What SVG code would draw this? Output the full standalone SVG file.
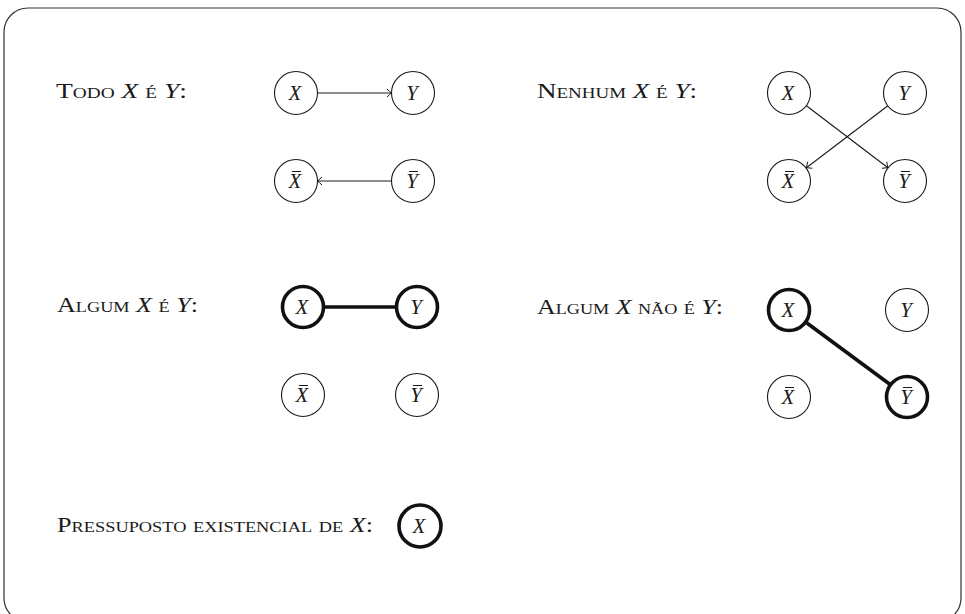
<svg xmlns="http://www.w3.org/2000/svg" width="965" height="614" viewBox="0 0 965 614">
<style>
  .lbl { font-family: 'Liberation Serif', 'Times New Roman', serif; font-size: 20px; font-variant: small-caps; fill: #1a1a1a; }
  .m { font-style: italic; font-variant: normal; }
  .nt { font-family: 'Liberation Serif', 'Times New Roman', serif; font-size: 21px; font-style: italic; fill: #1a1a1a; text-anchor: middle; }
  .thin { fill: #fff; stroke: #1a1a1a; stroke-width: 1.1; }
  .thick { fill: #fff; stroke: #111; stroke-width: 3.6; }
  .edge { stroke: #1a1a1a; stroke-width: 1.1; fill: none; }
  .bold { stroke: #111; stroke-width: 3.6; fill: none; }
  .bar { stroke: #1a1a1a; stroke-width: 1; }
</style>
<defs>
  <marker id="arr" viewBox="-6 -5 7 10" markerWidth="7" markerHeight="10" refX="0" refY="0" orient="auto" markerUnits="userSpaceOnUse">
    <path d="M -4.5 -4 Q -1.5 -1 0 0 Q -1.5 1 -4.5 4" fill="none" stroke="#1a1a1a" stroke-width="1"/>
  </marker>
</defs>
<rect x="4" y="8" width="957" height="614" rx="24" ry="24" fill="#fff" stroke="#333" stroke-width="1.2"/>

<g id="labels">
  <text class="lbl" x="56" y="98" textLength="131" lengthAdjust="spacingAndGlyphs">Todo <tspan class="m">X</tspan> é <tspan class="m">Y</tspan>:</text>
  <text class="lbl" x="537" y="98" textLength="160" lengthAdjust="spacingAndGlyphs">Nenhum <tspan class="m">X</tspan> é <tspan class="m">Y</tspan>:</text>
  <text class="lbl" x="57" y="312" textLength="141" lengthAdjust="spacingAndGlyphs">Algum <tspan class="m">X</tspan> é <tspan class="m">Y</tspan>:</text>
  <text class="lbl" x="537" y="314" textLength="186" lengthAdjust="spacingAndGlyphs">Algum <tspan class="m">X</tspan> não é <tspan class="m">Y</tspan>:</text>
  <text class="lbl" x="57" y="532" textLength="316" lengthAdjust="spacingAndGlyphs">Pressuposto existencial de <tspan class="m">X</tspan>:</text>
</g>

<g id="connectors">
  <line class="edge" x1="317.5" y1="93" x2="391.5" y2="93" marker-end="url(#arr)"/>
  <line class="edge" x1="391.5" y1="181" x2="317.5" y2="181" marker-end="url(#arr)"/>
  <line class="edge" x1="806.4" y1="105.7" x2="887.9" y2="167.7" marker-end="url(#arr)"/>
  <line class="edge" x1="887.9" y1="105.7" x2="806.4" y2="167.7" marker-end="url(#arr)"/>
  <line class="bold" x1="324" y1="307" x2="396" y2="307"/>
  <line class="bold" x1="806.2" y1="322.5" x2="889.8" y2="384.2"/>
</g>

<!-- Todo X é Y -->
<g id="todo-X"><circle class="thin" cx="296" cy="93" r="21.5"/><text class="nt" x="295" y="100">X</text></g>
<g id="todo-Y"><circle class="thin" cx="413" cy="93" r="21.5"/><text class="nt" x="412" y="100">Y</text></g>
<g id="todo-Xbar"><circle class="thin" cx="296" cy="181" r="21.5"/><text class="nt" x="295" y="188">X</text><line class="bar" x1="292" y1="171.5" x2="301" y2="171.5"/></g>
<g id="todo-Ybar"><circle class="thin" cx="413" cy="181" r="21.5"/><text class="nt" x="412" y="188">Y</text><line class="bar" x1="409" y1="171.5" x2="418" y2="171.5"/></g>

<!-- Nenhum X é Y -->
<g id="nen-X"><circle class="thin" cx="789" cy="93" r="21.5"/><text class="nt" x="788" y="100">X</text></g>
<g id="nen-Y"><circle class="thin" cx="905" cy="93" r="21.5"/><text class="nt" x="904" y="100">Y</text></g>
<g id="nen-Xbar"><circle class="thin" cx="789" cy="181" r="21.5"/><text class="nt" x="788" y="188">X</text><line class="bar" x1="785" y1="171.5" x2="794" y2="171.5"/></g>
<g id="nen-Ybar"><circle class="thin" cx="905" cy="181" r="21.5"/><text class="nt" x="904" y="188">Y</text><line class="bar" x1="901" y1="171.5" x2="910" y2="171.5"/></g>

<!-- Algum X é Y -->
<g id="alg-X"><circle class="thick" cx="303" cy="307" r="20.5"/><text class="nt" x="302" y="314">X</text></g>
<g id="alg-Y"><circle class="thick" cx="417" cy="307" r="20.5"/><text class="nt" x="416" y="314">Y</text></g>
<g id="alg-Xbar"><circle class="thin" cx="303" cy="395" r="21.5"/><text class="nt" x="302" y="402">X</text><line class="bar" x1="299" y1="385.5" x2="308" y2="385.5"/></g>
<g id="alg-Ybar"><circle class="thin" cx="417" cy="395" r="21.5"/><text class="nt" x="416" y="402">Y</text><line class="bar" x1="413" y1="385.5" x2="422" y2="385.5"/></g>

<!-- Algum X não é Y -->
<g id="algn-X"><circle class="thick" cx="789" cy="310" r="20.5"/><text class="nt" x="788" y="317">X</text></g>
<g id="algn-Y"><circle class="thin" cx="907" cy="310" r="21.5"/><text class="nt" x="906" y="317">Y</text></g>
<g id="algn-Xbar"><circle class="thin" cx="789" cy="397" r="21.5"/><text class="nt" x="788" y="404">X</text><line class="bar" x1="785" y1="387.5" x2="794" y2="387.5"/></g>
<g id="algn-Ybar"><circle class="thick" cx="907" cy="397" r="20.5"/><text class="nt" x="906" y="404">Y</text><line class="bar" x1="903" y1="387.5" x2="912" y2="387.5"/></g>

<!-- Pressuposto -->
<g id="pres-X"><circle class="thick" cx="420" cy="526" r="21"/><text class="nt" x="419" y="533">X</text></g>
</svg>
